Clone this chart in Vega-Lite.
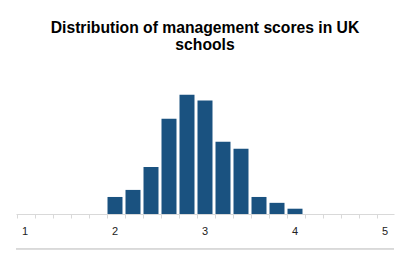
{
  "$schema": "https://vega.github.io/schema/vega-lite/v6.json",
  "autosize": "none",
  "width": 378,
  "height": 141,
  "padding": {"left": 16, "top": 73, "right": 6, "bottom": 43},
  "background": "white",
  "config": {"view": {"stroke": null}, "font": "Liberation Sans"},
  "title": {
    "text": ["Distribution of management scores in UK", "schools"],
    "fontSize": 15.7,
    "fontWeight": "bold",
    "font": "Liberation Sans",
    "color": "#000000",
    "lineHeight": 17,
    "anchor": "middle",
    "offset": 19
  },
  "data": {
    "values": [
      {"score": 2.0, "pct": 2.9},
      {"score": 2.2, "pct": 4.1},
      {"score": 2.4, "pct": 8.0},
      {"score": 2.6, "pct": 16.2},
      {"score": 2.8, "pct": 20.3},
      {"score": 3.0, "pct": 19.3},
      {"score": 3.2, "pct": 12.3},
      {"score": 3.4, "pct": 11.1},
      {"score": 3.6, "pct": 2.9},
      {"score": 3.8, "pct": 1.9},
      {"score": 4.0, "pct": 0.9}
    ]
  },
  "layer": [
    {
      "mark": {"type": "bar", "color": "#1a5280"},
      "encoding": {
        "x": {
          "field": "score",
          "type": "ordinal",
          "scale": {
            "domain": [1, 1.2, 1.4, 1.6, 1.8, 2, 2.2, 2.4, 2.6, 2.8, 3, 3.2, 3.4, 3.6, 3.8, 4, 4.2, 4.4, 4.6, 4.8, 5],
            "paddingInner": 0.167,
            "paddingOuter": 0.083
          },
          "axis": {
            "title": null,
            "labelAngle": 0,
            "labelExpr": "datum.value % 1 == 0 ? datum.value : ''",
            "bandPosition": 0,
            "tickSize": 4,
            "tickColor": "#d9d9d9",
            "domainColor": "#d9d9d9",
            "labelFontSize": 11,
            "labelColor": "#222222",
            "labelFont": "Liberation Sans",
            "labelPadding": 7
          }
        },
        "y": {
          "field": "pct",
          "type": "quantitative",
          "scale": {"domain": [0, 24]},
          "axis": null
        }
      }
    },
    {
      "mark": {"type": "rule", "color": "#d9d9d9", "strokeWidth": 1, "clip": false},
      "encoding": {
        "y": {"datum": -5.9, "type": "quantitative"}
      }
    }
  ]
}
